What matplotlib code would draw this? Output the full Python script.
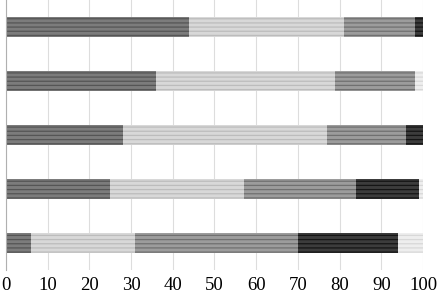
import matplotlib
matplotlib.use("Agg")
import matplotlib.pyplot as plt
import numpy as np

plt.rcParams['font.family'] = ['Liberation Serif', 'DejaVu Serif']
plt.rcParams['hatch.linewidth'] = 0.9

# rows listed top to bottom
seg1 = [44, 36, 28, 25, 6]
seg2 = [37, 43, 49, 32, 25]
seg3 = [17, 19, 19, 27, 39]
seg4 = [2, 0, 4, 15, 24]
seg5 = [0, 2, 0, 1, 6]
segments = [seg1, seg2, seg3, seg4, seg5]
faces = ['#7c7c7c', '#d8d8d8', '#9c9c9c', '#3c3c3c', '#eeeeee']
edges = ['#555555', '#bcbcbc', '#707070', '#151515', '#d8d8d8']

fig = plt.figure(figsize=(4.38, 2.98), dpi=100)
ax = fig.add_axes([0.0137, 0.094, 0.952, 0.906])

y = np.arange(len(seg1))[::-1]
left = np.zeros(len(seg1))
for vals, fc, ec in zip(segments, faces, edges):
    ax.barh(y, vals, left=left, height=0.37, color=fc, edgecolor=ec,
            hatch='----', linewidth=0)
    left += np.array(vals)

ax.set_xlim(0, 100)
ax.set_ylim(-0.5, 4.5)
ax.set_xticks(range(0, 101, 10))
ax.set_yticks([])
ax.tick_params(axis='x', length=0, labelsize=13.5, pad=5)
ax.grid(axis='x', color='#dddddd', linewidth=0.8)
ax.set_axisbelow(True)
for s in ['top', 'right', 'bottom']:
    ax.spines[s].set_visible(False)
ax.spines['left'].set_color('#b0b0b0')

fig.savefig('out.png', dpi=100)
